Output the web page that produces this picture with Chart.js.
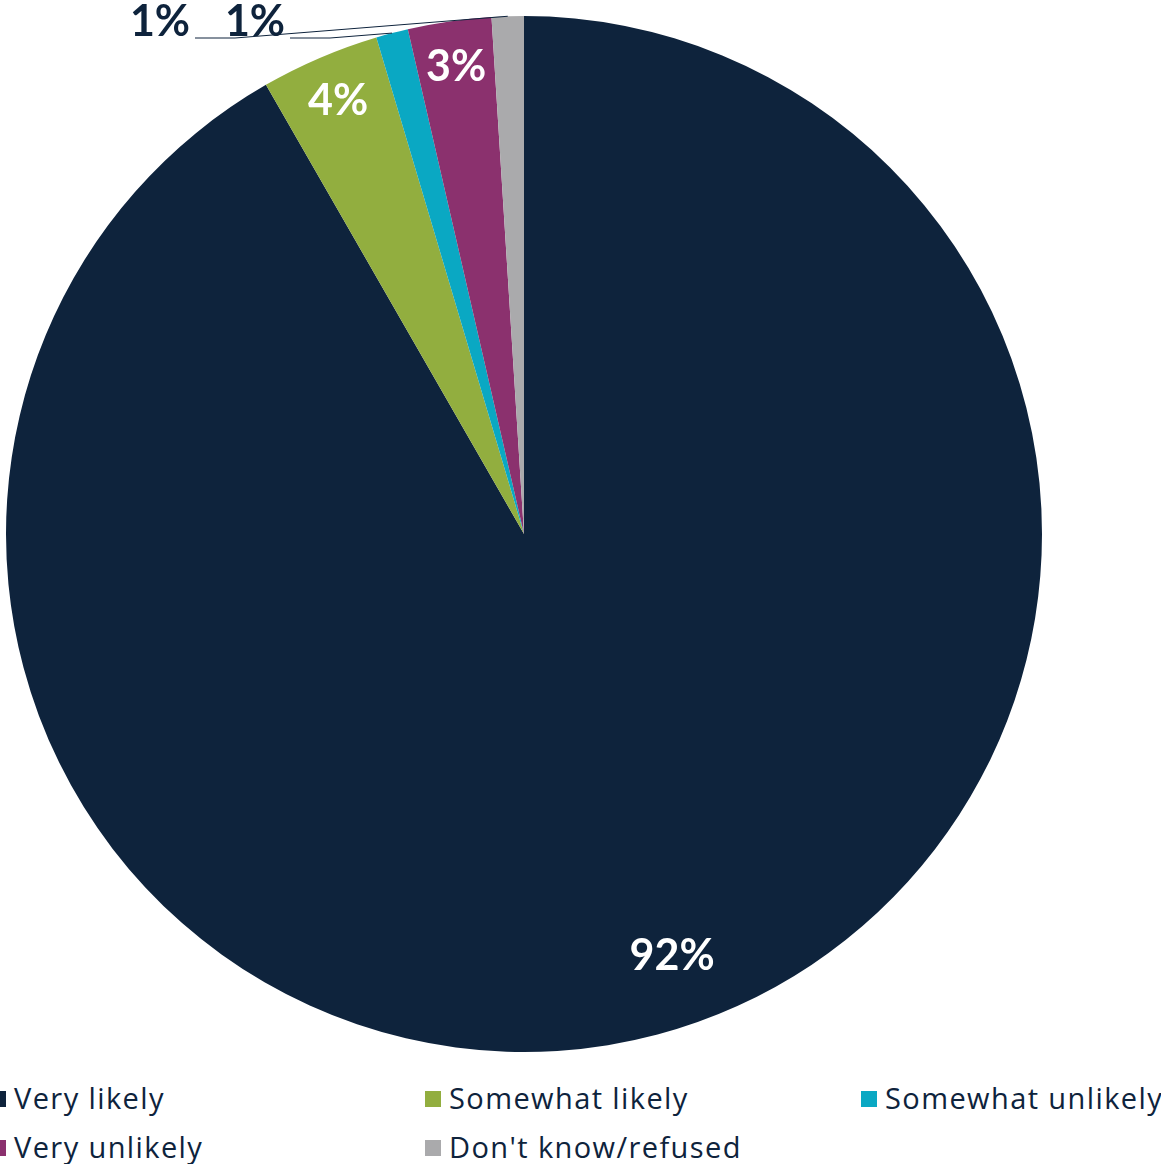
<!DOCTYPE html>
<html>
<head>
<meta charset="utf-8">
<script src="https://cdn.jsdelivr.net/npm/chart.js@4"></script>
<style>
  body { margin: 0; background: #fff; font-family: "Open Sans", Lato, sans-serif; overflow: hidden; }
  #wrap { position: absolute; left: 0; top: 0; width: 1161px; height: 1068px; }
  #legend {
    position: absolute; left: -10px; top: 1073px;
    display: grid; grid-template-columns: 435px 436px 300px;
    font-size: 29px; letter-spacing: 1.4px; color: #0e233c; line-height: 49px; white-space: nowrap;
  }
  #legend span.box { display: inline-block; width: 16px; height: 16px; margin-right: 8px; vertical-align: middle; position: relative; top: -2px; }
</style>
</head>
<body>
<div id="wrap"><canvas id="pie"></canvas></div>
<div id="legend"></div>
<script>
const categories = ["Very likely", "Somewhat likely", "Somewhat unlikely", "Very unlikely", "Don't know/refused"];
const shares = [91.7, 3.7, 1.0, 2.6, 1.0];
const colors = ["#0e233c", "#92ae3f", "#0aa8c3", "#8b316e", "#aaaaac"];
const navy = "#0e233c";

// slices 2 and 4 get their labels outside with leader lines
const outsideLabels = { 2: { dx: 249, dy: 6 }, 4: { dx: 154, dy: 6 } };
// small nudge for the big label, Excel puts it a bit off the mid angle
const labelNudge = { 0: { dx: 32, dy: -13 } };

const labelPlugin = {
  id: "pctLabels",
  afterDatasetsDraw(chart) {
    const ctx = chart.ctx;
    const meta = chart.getDatasetMeta(0);
    const area = chart.chartArea;
    ctx.save();
    ctx.font = "bold 43px Lato, sans-serif";
    ctx.textBaseline = "middle";
    ctx.textAlign = "center";
    meta.data.forEach((arc, i) => {
      const p = arc.getProps(["x", "y", "startAngle", "endAngle", "outerRadius"], true);
      const mid = (p.startAngle + p.endAngle) / 2;
      const text = Math.round(shares[i]) + "%";
      const out = outsideLabels[i];
      if (out) {
        const sx = p.x + Math.cos(mid) * p.outerRadius;
        const sy = p.y + Math.sin(mid) * p.outerRadius;
        const lx = area.left + out.dx;
        const ly = area.top + out.dy;
        ctx.strokeStyle = navy;
        ctx.lineWidth = 1;
        ctx.beginPath();
        ctx.moveTo(lx + 35, ly + 16);
        ctx.lineTo(lx + 75, ly + 16);
        ctx.lineTo(sx, sy);
        ctx.stroke();
        ctx.fillStyle = navy;
        ctx.fillText(text, lx, ly);
      } else {
        const r = p.outerRadius * (i === 0 ? 0.87 : 0.91);
        const n = labelNudge[i] || { dx: 0, dy: 0 };
        ctx.fillStyle = "#ffffff";
        ctx.fillText(text, p.x + Math.cos(mid) * r + n.dx, p.y + Math.sin(mid) * r + n.dy);
      }
    });
    ctx.restore();
  }
};

new Chart(document.getElementById("pie"), {
  type: "pie",
  data: {
    labels: categories,
    datasets: [{ data: shares, backgroundColor: colors, borderWidth: 0 }]
  },
  options: {
    responsive: true,
    maintainAspectRatio: false,
    animation: false,
    layout: { padding: { left: 6, top: 16, right: 119, bottom: 16 } },
    plugins: { legend: { display: false }, tooltip: { enabled: false } }
  },
  plugins: [labelPlugin]
});

// legend in a three-column grid
const legend = document.getElementById("legend");
legend.innerHTML = categories
  .map((c, i) => `<div><span class="box" style="background:${colors[i]}"></span>${c}</div>`)
  .join("");
</script>
</body>
</html>
